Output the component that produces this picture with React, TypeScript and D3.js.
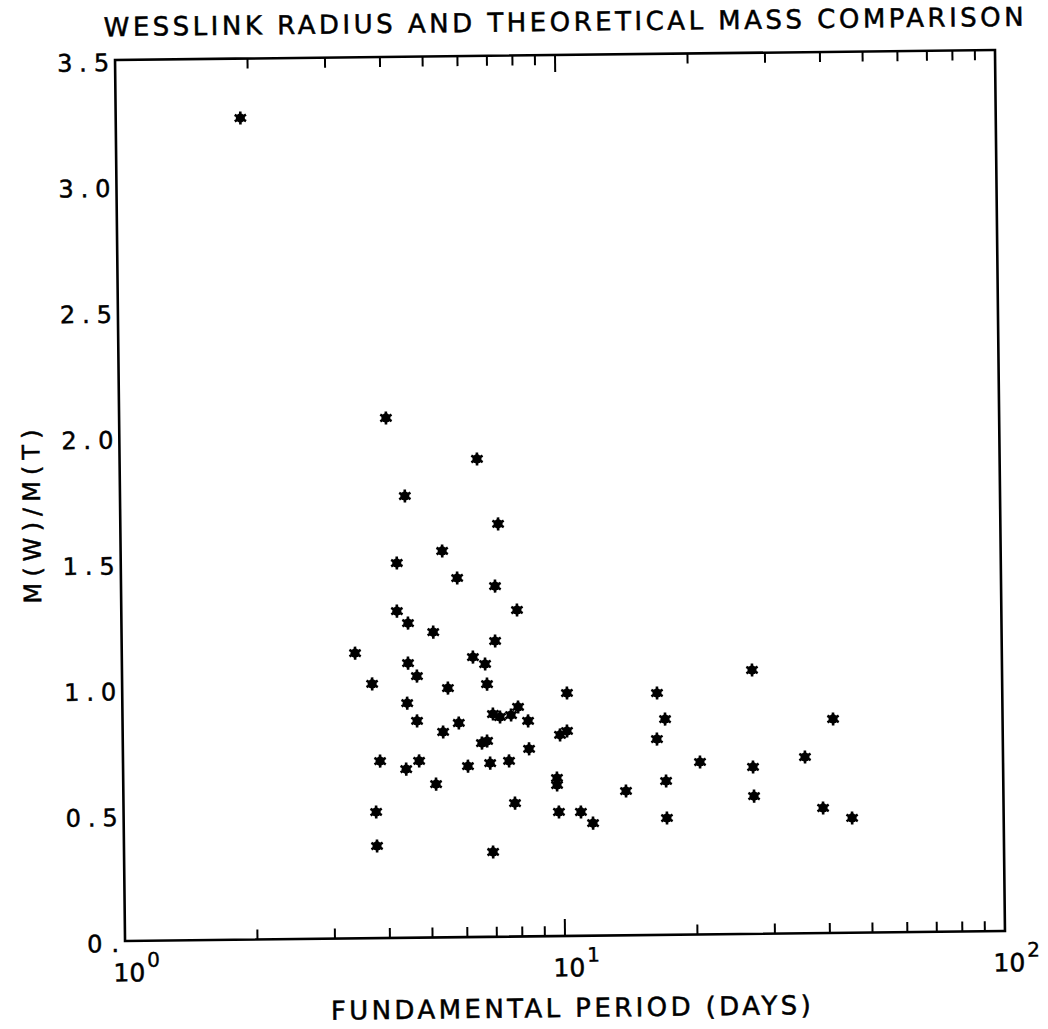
import * as d3 from 'd3';

// Fundamental period (days) and M(W)/M(T)
const periods = [
  1.92, 4.04, 6.49, 4.44, 7.22, 5.38, 4.24, 5.81, 7.08, 7.93,
  4.23, 4.48, 5.11, 7.06, 3.39, 4.47, 6.28, 6.69, 4.68, 3.70,
  5.50, 6.75, 10.25, 4.44, 4.67, 5.35, 5.81, 6.95, 7.21, 7.64,
  7.93, 8.35, 6.55, 6.73, 9.86, 10.23, 3.84, 4.40, 4.71, 6.08,
  6.83, 7.54, 8.38, 9.68, 9.68, 5.14, 7.76, 3.75, 9.76, 10.95,
  11.66, 3.76, 6.90, 27.03, 16.42, 17.10, 41.19, 16.37, 35.48, 20.48,
  27.02, 17.13, 27.12, 13.88, 17.17, 38.89, 45.24,
];
const ratios = [
  3.264, 2.066, 1.899, 1.755, 1.640, 1.535, 1.489, 1.427, 1.393, 1.297,
  1.298, 1.250, 1.213, 1.175, 1.133, 1.091, 1.112, 1.084, 1.039, 1.010,
  0.990, 1.004, 0.965, 0.932, 0.861, 0.816, 0.851, 0.885, 0.873, 0.880,
  0.912, 0.856, 0.770, 0.778, 0.799, 0.814, 0.703, 0.670, 0.702, 0.679,
  0.690, 0.698, 0.745, 0.628, 0.600, 0.609, 0.530, 0.501, 0.493, 0.492,
  0.447, 0.366, 0.337, 1.048, 0.961, 0.857, 0.850, 0.778, 0.700, 0.685,
  0.663, 0.611, 0.547, 0.573, 0.464, 0.497, 0.456,
];

const yTickValues = [3.5, 3.0, 2.5, 2.0, 1.5, 1.0, 0.5, 0];
const yTickLabels = ['3.5', '3.0', '2.5', '2.0', '1.5', '1.0', '0.5', '0.'];
const xDecades = [1, 10, 100];
const xDecadeExp = ['0', '1', '2'];

const title = 'WESSLINK RADIUS AND THEORETICAL MASS COMPARISON';
const xTitle = 'FUNDAMENTAL PERIOD (DAYS)';
const yTitle = 'M(W)/M(T)';

const W = 1048;
const H = 1029;
const margin = { top: 55, right: 48, bottom: 93, left: 120 };
const font = '"DejaVu Sans", sans-serif';

export default function App() {
  const x = d3.scaleLog().domain([1, 100]).range([margin.left, W - margin.right]);
  const y = d3.scaleLinear().domain([0, 3.5]).range([H - margin.bottom, margin.top]);
  const [x0, x1] = x.range();
  const [yb, yt] = y.range();

  const minorTicks = x.ticks().filter((t) => t !== 1 && t !== 100);
  const points = periods.map((p, i) => ({ p, r: ratios[i] }));

  const star = d3.symbol(d3.symbolAsterisk, 120)()!;

  // the scan sits slightly rotated on the page
  const cx = (x0 + x1) / 2;
  const cy = (yb + yt) / 2;

  return (
    <svg
      width={W}
      height={H}
      style={{ position: 'absolute', left: 0, top: 0, background: '#fff' }}
      fontFamily={font}
    >
      <g transform={`rotate(-0.65, ${cx}, ${cy})`}>
        <text
          x={(x0 + x1) / 2 + 9}
          y={22}
          textAnchor="middle"
          dominantBaseline="central"
          fontSize={26}
          textLength={920}
          lengthAdjust="spacing"
          stroke="#000"
          strokeWidth={0.5}
        >
          {title}
        </text>

        {/* frame */}
        <rect
          x={x0}
          y={yt}
          width={x1 - x0}
          height={yb - yt}
          fill="none"
          stroke="#000"
          strokeWidth={2.6}
        />

        {/* log ticks on bottom and top */}
        {minorTicks.map((t) => {
          const len = t === 10 ? 17 : 10;
          return (
            <g key={t}>
              <line x1={x(t)} x2={x(t)} y1={yb} y2={yb - len} stroke="#000" strokeWidth={2} />
              <line x1={x(t)} x2={x(t)} y1={yt} y2={yt + len} stroke="#000" strokeWidth={2} />
            </g>
          );
        })}

        {/* y labels, no tick marks */}
        {yTickValues.map((v, i) => (
          <text
            key={v}
            x={x0 - 6}
            y={y(v) + 3}
            textAnchor="end"
            dominantBaseline="central"
            fontSize={24}
            textLength={yTickLabels[i].length === 3 ? 52 : 32}
            lengthAdjust="spacing"
            stroke="#000"
            strokeWidth={0.5}
          >
            {yTickLabels[i]}
          </text>
        ))}

        {/* x decade labels */}
        {xDecades.map((d, i) => (
          <g key={d}>
            <text
              x={x(d) + 4}
              y={yb + 32}
              textAnchor="middle"
              dominantBaseline="central"
              fontSize={25}
              stroke="#000"
              strokeWidth={0.5}
            >
              10
            </text>
            <text
              x={x(d) + 22}
              y={yb + 19}
              textAnchor="start"
              dominantBaseline="central"
              fontSize={20}
              stroke="#000"
              strokeWidth={0.4}
            >
              {xDecadeExp[i]}
            </text>
          </g>
        ))}

        <text
          x={(x0 + x1) / 2 + 5}
          y={yb + 72}
          textAnchor="middle"
          dominantBaseline="central"
          fontSize={26}
          textLength={480}
          lengthAdjust="spacing"
          stroke="#000"
          strokeWidth={0.5}
        >
          {xTitle}
        </text>

        <text
          transform={`translate(32, ${(yb + yt) / 2 + 15}) rotate(-90)`}
          textAnchor="middle"
          dominantBaseline="central"
          fontSize={24}
          textLength={174}
          lengthAdjust="spacing"
          stroke="#000"
          strokeWidth={0.5}
        >
          {yTitle}
        </text>

        {/* data */}
        {points.map((d, i) => (
          <g key={i} transform={`translate(${x(d.p)},${y(d.r)})`}>
            <circle r={4.6} fill="#000" />
            <path d={star} fill="none" stroke="#000" strokeWidth={2.6} />
          </g>
        ))}
      </g>
    </svg>
  );
}
